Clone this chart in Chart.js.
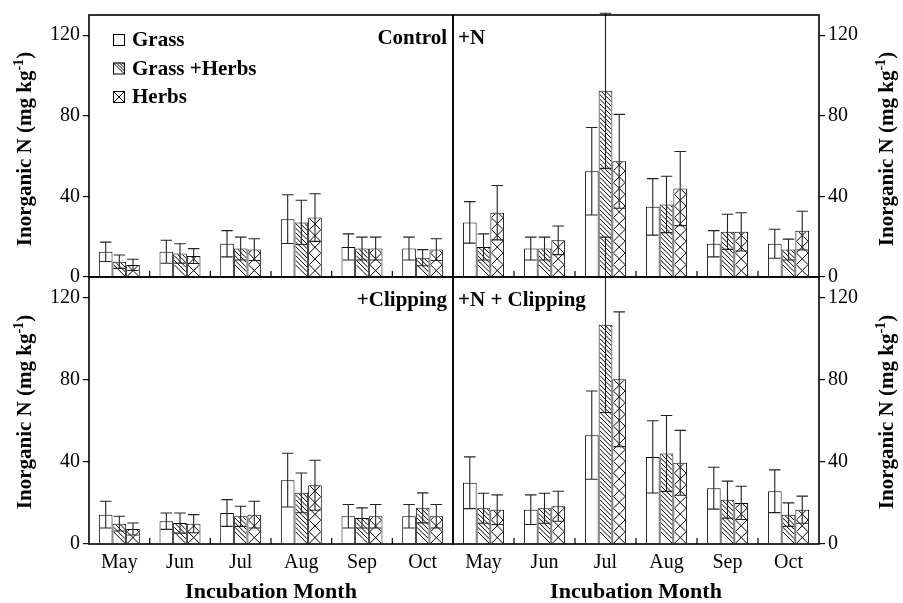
<!DOCTYPE html>
<html>
<head>
<meta charset="utf-8">
<script src="https://cdn.jsdelivr.net/npm/chart.js@4.4.1/dist/chart.umd.min.js"></script>
<style>
  html, body { margin: 0; padding: 0; background: #fff; }
  #wrap { position: relative; width: 903px; height: 603px; overflow: hidden; }
  #wrap canvas { position: absolute; left: 0; top: 0; }
  .ytitle {
    position: absolute;
    font: bold 21px 'Liberation Serif', 'Times New Roman', serif;
    line-height: 1;
    white-space: nowrap;
    transform: translate(-50%, -50%) rotate(-90deg);
  }
  .ytitle sup { font-size: 14px; line-height: 0; }
</style>
</head>
<body>
<div id="wrap">
  <canvas id="c-control" width="903" height="603"></canvas>
  <canvas id="c-n" width="903" height="603"></canvas>
  <canvas id="c-clip" width="903" height="603"></canvas>
  <canvas id="c-nclip" width="903" height="603"></canvas>
  <div class="ytitle" style="left:24px; top:149px">Inorganic N (mg kg<sup>-1</sup>)</div>
  <div class="ytitle" style="left:24px; top:412px">Inorganic N (mg kg<sup>-1</sup>)</div>
  <div class="ytitle" style="left:886px; top:149px">Inorganic N (mg kg<sup>-1</sup>)</div>
  <div class="ytitle" style="left:886px; top:412px">Inorganic N (mg kg<sup>-1</sup>)</div>
</div>
<script>
const FONT = "'Liberation Serif', 'Times New Roman', serif";
Chart.defaults.font.family = FONT;
Chart.defaults.color = '#000';

const months = ['May', 'Jun', 'Jul', 'Aug', 'Sep', 'Oct'];
const seriesNames = ['Grass', 'Grass +Herbs', 'Herbs'];
const yMax = 130;
const yStep = 40;

// Control
const controlGrass = [12.5, 12.5, 16.5, 28.7, 14.9, 14.1];
const controlGrassSe = [4.8, 5.7, 6.5, 12.1, 6.5, 5.7];
const controlMix = [7.6, 11.7, 14.1, 27.1, 14.1, 9.6];
const controlMixSe = [3.3, 4.8, 5.7, 11.0, 5.7, 4.0];
const controlHerbs = [6.0, 10.4, 13.6, 29.5, 14.1, 13.6];
const controlHerbsSe = [2.8, 3.7, 5.4, 11.8, 5.7, 5.4];

// +N
const nGrass = [27.1, 14.1, 52.5, 34.8, 16.5, 16.5];
const nGrassSe = [10.3, 5.7, 21.7, 14.0, 6.5, 7.2];
const nMix = [14.9, 14.1, 92.4, 36.0, 22.4, 13.6];
const nMixSe = [6.5, 5.7, 38.5, 14.0, 8.7, 5.2];
const nHerbs = [31.9, 18.2, 57.4, 43.9, 22.4, 23.0];
const nHerbsSe = [13.5, 7.1, 23.3, 18.4, 9.5, 9.6];

// +Clipping
const clipGrass = [14.3, 11.1, 15.1, 31.1, 13.5, 13.5];
const clipGrassSe = [6.5, 4.0, 6.5, 13.1, 5.7, 5.7];
const clipMix = [9.9, 10.2, 13.5, 24.9, 12.7, 17.6];
const clipMixSe = [3.6, 4.9, 4.9, 9.7, 4.9, 7.3];
const clipHerbs = [7.3, 9.9, 14.3, 28.6, 13.5, 13.5];
const clipHerbsSe = [2.9, 4.4, 6.5, 12.2, 5.7, 5.7];

// +N + Clipping
const nclipGrass = [29.8, 16.7, 53.0, 42.4, 27.2, 25.7];
const nclipGrassSe = [12.6, 7.2, 21.5, 17.6, 10.2, 10.4];
const nclipMix = [17.4, 17.4, 106.7, 44.1, 21.6, 14.3];
const nclipMixSe = [7.3, 7.3, 42.7, 18.5, 9.0, 5.7];
const nclipHerbs = [16.7, 18.4, 80.2, 39.5, 20.0, 16.7];
const nclipHerbsSe = [7.2, 7.3, 32.8, 15.8, 8.1, 6.6];

const hatchKinds = [null, 'diag', 'cross'];

// fill a rectangle with the hatch of a series, anchored at its bottom edge
function hatch(ctx, kind, x0, y0, x1, y1, step) {
  if (!kind) return;
  const w = x1 - x0, h = y1 - y0;
  if (w <= 0 || h <= 0) return;
  ctx.save();
  ctx.beginPath();
  ctx.rect(x0, y0, w, h);
  ctx.clip();
  ctx.strokeStyle = '#000';
  ctx.lineWidth = 1;
  ctx.beginPath();
  if (kind === 'diag') {
    for (let k = 0; k < h + w; k += step) {
      ctx.moveTo(x0, y1 - k - w);
      ctx.lineTo(x1, y1 - k);
    }
  } else {
    for (let k = 0; k * w < h + w; k++) {
      ctx.moveTo(x0, y1 - k * w - w);
      ctx.lineTo(x1, y1 - k * w);
      ctx.moveTo(x0, y1 - k * w);
      ctx.lineTo(x1, y1 - k * w - w);
    }
  }
  ctx.stroke();
  ctx.restore();
}

const panelPlugin = {
  id: 'panel',
  afterDatasetsDraw(chart, args, opts) {
    const ctx = chart.ctx;
    const area = chart.chartArea;
    const xs = chart.scales.x;
    const ys = chart.scales.y;

    // hatching, then error bars on top
    chart.data.datasets.forEach((ds, i) => {
      const meta = chart.getDatasetMeta(i);
      meta.data.forEach((bar, j) => {
        const p = bar.getProps(['x', 'y', 'base', 'width'], true);
        const left = p.x - p.width / 2, right = p.x + p.width / 2;
        hatch(ctx, ds.hatch, left + 1, p.y + 1, right - 1, p.base, 4.6);
      });
    });
    chart.data.datasets.forEach((ds, i) => {
      const meta = chart.getDatasetMeta(i);
      meta.data.forEach((bar, j) => {
        const p = bar.getProps(['x', 'width'], true);
        const hi = ys.getPixelForValue(ds.data[j] + ds.errors[j]);
        const lo = ys.getPixelForValue(ds.data[j] - ds.errors[j]);
        const cap = p.width * 0.42;
        ctx.save();
        ctx.strokeStyle = '#222';
        ctx.lineWidth = 1.1;
        ctx.beginPath();
        ctx.moveTo(p.x, hi); ctx.lineTo(p.x, lo);
        ctx.moveTo(p.x - cap, hi); ctx.lineTo(p.x + cap, hi);
        ctx.moveTo(p.x - cap, lo); ctx.lineTo(p.x + cap, lo);
        ctx.stroke();
        ctx.restore();
      });
    });

    ctx.save();
    // separator ticks between months
    ctx.strokeStyle = '#000';
    ctx.lineWidth = 1.2;
    ctx.beginPath();
    for (let i = 1; i < months.length; i++) {
      const x = (xs.getPixelForValue(i - 1) + xs.getPixelForValue(i)) / 2;
      ctx.moveTo(x, area.bottom);
      ctx.lineTo(x, area.bottom - 6);
    }
    ctx.stroke();

    // frame
    ctx.lineWidth = 1.6;
    ctx.strokeRect(area.left, area.top, area.right - area.left, area.bottom - area.top);

    // panel label
    ctx.font = 'bold 21px ' + FONT;
    ctx.fillStyle = '#000';
    ctx.textBaseline = 'middle';
    if (opts.align === 'right') {
      ctx.textAlign = 'right';
      ctx.fillText(opts.label, area.right - 6, area.top + 24);
    } else {
      ctx.textAlign = 'left';
      ctx.fillText(opts.label, area.left + 5, area.top + 24);
    }

    // legend
    if (opts.legend) {
      const rows = [25, 53.5, 82];
      ctx.textAlign = 'left';
      seriesNames.forEach((name, i) => {
        const bx = area.left + 24, by = area.top + rows[i] - 6;
        ctx.fillStyle = '#fff';
        ctx.fillRect(bx, by, 12, 12);
        hatch(ctx, hatchKinds[i], bx, by, bx + 12, by + 12, 3);
        ctx.lineWidth = 1;
        ctx.strokeStyle = '#000';
        ctx.strokeRect(bx + 0.5, by + 0.5, 11, 11);
        ctx.fillStyle = '#000';
        ctx.fillText(name, bx + 19, area.top + rows[i] + 1);
      });
    }
    ctx.restore();
  }
};

function makePanel(id, values, errors, opts) {
  const datasets = values.map((v, i) => ({
    label: seriesNames[i],
    data: v,
    errors: errors[i],
    hatch: hatchKinds[i],
    backgroundColor: '#fff',
    borderColor: '#000',
    borderWidth: 1,
    categoryPercentage: 0.675,
    barPercentage: 1.0
  }));

  return new Chart(document.getElementById(id), {
    type: 'bar',
    data: { labels: months, datasets },
    plugins: [panelPlugin],
    options: {
      responsive: false,
      animation: false,
      layout: { padding: opts.padding },
      plugins: {
        legend: { display: false },
        tooltip: { enabled: false },
        panel: { label: opts.label, align: opts.labelAlign, legend: !!opts.legend }
      },
      scales: {
        x: {
          display: opts.showX,
          grid: { display: false, drawTicks: false },
          border: { display: false },
          ticks: { font: { size: 20 }, padding: 7, color: '#000' },
          title: {
            display: true,
            text: 'Incubation Month',
            font: { size: 22, weight: 'bold', lineHeight: 1 },
            color: '#000',
            padding: { top: 0, bottom: 0 }
          },
          afterFit: s => { s.height = opts.showX ? 59 : 0; }
        },
        y: {
          position: opts.yPosition,
          min: 0,
          max: yMax,
          ticks: {
            stepSize: yStep,
            includeBounds: false,
            font: { size: 20 },
            padding: 3,
            color: '#000'
          },
          grid: { drawOnChartArea: false, tickLength: 6, color: '#000', lineWidth: 1.2 },
          border: { display: false },
          afterFit: s => { s.width = opts.yWidth; }
        }
      }
    }
  });
}

makePanel('c-control',
  [controlGrass, controlMix, controlHerbs],
  [controlGrassSe, controlMixSe, controlHerbsSe],
  { padding: { left: 0, top: 11, right: 450, bottom: 326 }, yPosition: 'left', yWidth: 89,
    showX: false, label: 'Control', labelAlign: 'right', legend: true });

makePanel('c-n',
  [nGrass, nMix, nHerbs],
  [nGrassSe, nMixSe, nHerbsSe],
  { padding: { left: 453, top: 11, right: 0, bottom: 326 }, yPosition: 'right', yWidth: 84,
    showX: false, label: '+N', labelAlign: 'left' });

makePanel('c-clip',
  [clipGrass, clipMix, clipHerbs],
  [clipGrassSe, clipMixSe, clipHerbsSe],
  { padding: { left: 0, top: 277, right: 450, bottom: 0 }, yPosition: 'left', yWidth: 89,
    showX: true, label: '+Clipping', labelAlign: 'right' });

makePanel('c-nclip',
  [nclipGrass, nclipMix, nclipHerbs],
  [nclipGrassSe, nclipMixSe, nclipHerbsSe],
  { padding: { left: 453, top: 277, right: 0, bottom: 0 }, yPosition: 'right', yWidth: 84,
    showX: true, label: '+N + Clipping', labelAlign: 'left' });
</script>
</body>
</html>
